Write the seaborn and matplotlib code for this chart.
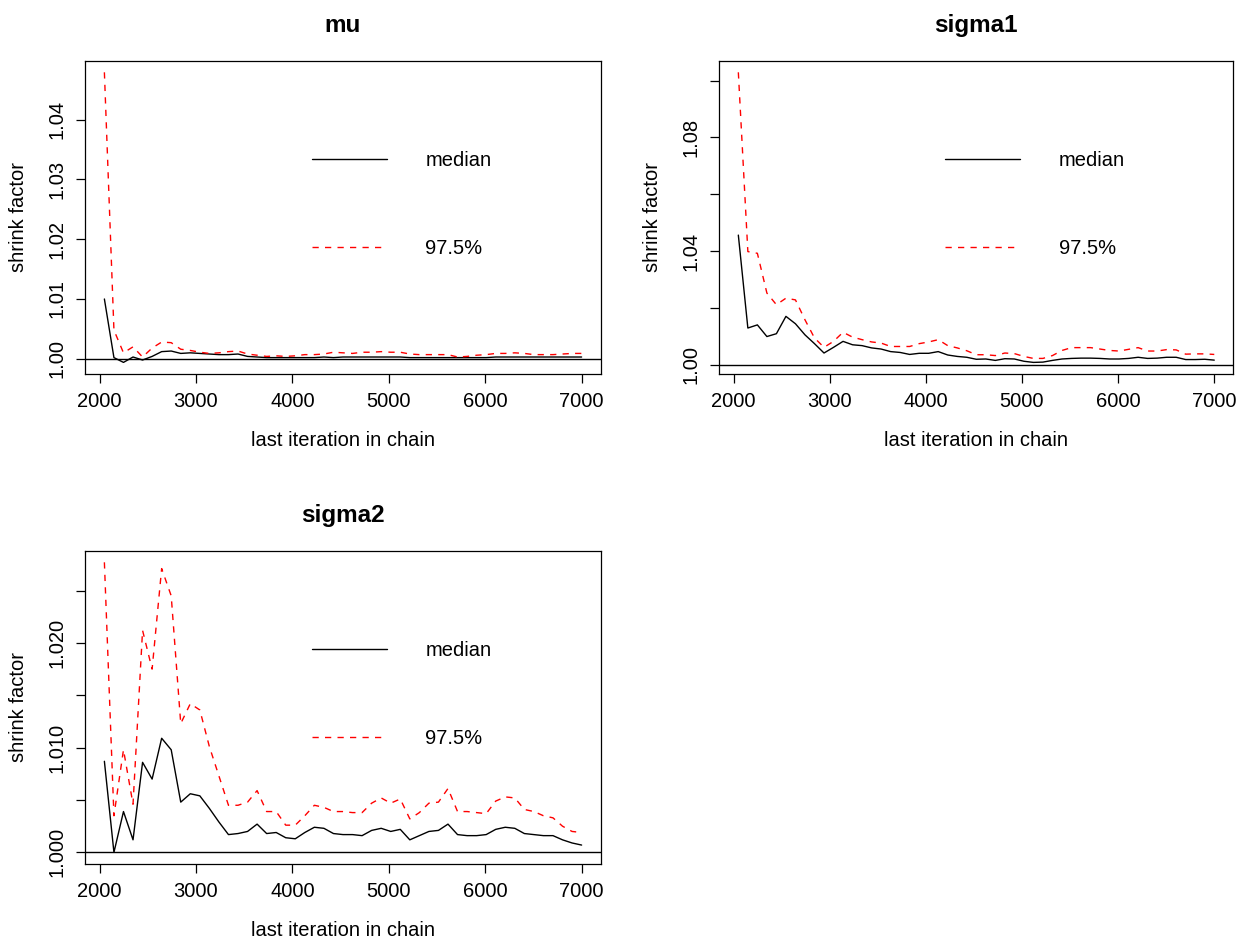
import numpy as np
import pandas as pd
import matplotlib
matplotlib.use("Agg")
import matplotlib.pyplot as plt
import seaborn as sns

# ---------------- data ----------------
last_iter = [2050, 2149, 2248, 2347, 2446, 2545, 2644, 2743, 2842, 2941,
             3040, 3139, 3238, 3337, 3436, 3535, 3634, 3733, 3832, 3931,
             4030, 4129, 4228, 4327, 4426, 4525, 4624, 4723, 4822, 4921,
             5020, 5119, 5218, 5317, 5416, 5515, 5614, 5713, 5812, 5911,
             6010, 6109, 6208, 6307, 6406, 6505, 6604, 6703, 6802, 6901,
             7000]

mu_median = [1.0100, 1.0002, 0.9994, 1.0003, 0.9998, 1.0004, 1.0012, 1.0013, 1.0009, 1.0010,
             1.0009, 1.0008, 1.0007, 1.0007, 1.0008, 1.0004, 1.0003, 1.0002, 1.0002, 1.0002,
             1.0002, 1.0002, 1.0002, 1.0003, 1.0002, 1.0003, 1.0003, 1.0003, 1.0003, 1.0003,
             1.0003, 1.0003, 1.0002, 1.0002, 1.0002, 1.0002, 1.0002, 1.0002, 1.0002, 1.0002,
             1.0002, 1.0003, 1.0003, 1.0003, 1.0003, 1.0003, 1.0003, 1.0003, 1.0003, 1.0003,
             1.0003]
mu_975 = [1.0479, 1.0048, 1.0010, 1.0020, 1.0003, 1.0018, 1.0028, 1.0027, 1.0016, 1.0014,
          1.0011, 1.0009, 1.0010, 1.0012, 1.0013, 1.0008, 1.0006, 1.0004, 1.0005, 1.0004,
          1.0005, 1.0007, 1.0007, 1.0008, 1.0011, 1.0010, 1.0009, 1.0011, 1.0011, 1.0012,
          1.0011, 1.0011, 1.0008, 1.0007, 1.0007, 1.0007, 1.0007, 1.0003, 1.0004, 1.0006,
          1.0007, 1.0009, 1.0009, 1.0010, 1.0009, 1.0007, 1.0007, 1.0007, 1.0008, 1.0009,
          1.0009]

sigma1_median = [1.0456, 1.0129, 1.0140, 1.0099, 1.0109, 1.0170, 1.0144, 1.0105, 1.0074, 1.0041,
                 1.0061, 1.0082, 1.0070, 1.0067, 1.0059, 1.0055, 1.0046, 1.0043, 1.0036, 1.0040,
                 1.0040, 1.0046, 1.0034, 1.0029, 1.0026, 1.0019, 1.0020, 1.0015, 1.0021, 1.0020,
                 1.0012, 1.0008, 1.0009, 1.0015, 1.0020, 1.0022, 1.0023, 1.0023, 1.0022, 1.0020,
                 1.0020, 1.0022, 1.0026, 1.0022, 1.0023, 1.0026, 1.0026, 1.0018, 1.0018, 1.0019,
                 1.0016]
sigma1_975 = [1.1029, 1.0398, 1.0392, 1.0252, 1.0211, 1.0234, 1.0228, 1.0158, 1.0094, 1.0061,
              1.0082, 1.0114, 1.0097, 1.0088, 1.0080, 1.0076, 1.0064, 1.0064, 1.0064, 1.0074,
              1.0080, 1.0088, 1.0067, 1.0059, 1.0049, 1.0035, 1.0035, 1.0032, 1.0041, 1.0039,
              1.0029, 1.0022, 1.0022, 1.0032, 1.0050, 1.0060, 1.0060, 1.0060, 1.0055, 1.0050,
              1.0048, 1.0054, 1.0060, 1.0048, 1.0048, 1.0053, 1.0052, 1.0037, 1.0038, 1.0038,
              1.0036]

sigma2_median = [1.0087, 1.0000, 1.0039, 1.0012, 1.0086, 1.0070, 1.0109, 1.0098, 1.0048, 1.0056,
                 1.0054, 1.0042, 1.0029, 1.0017, 1.0018, 1.0020, 1.0027, 1.0018, 1.0019, 1.0014,
                 1.0013, 1.0019, 1.0024, 1.0023, 1.0018, 1.0017, 1.0017, 1.0016, 1.0021, 1.0023,
                 1.0020, 1.0022, 1.0012, 1.0016, 1.0020, 1.0021, 1.0027, 1.0017, 1.0016, 1.0016,
                 1.0017, 1.0022, 1.0024, 1.0023, 1.0018, 1.0017, 1.0016, 1.0016, 1.0012, 1.0009,
                 1.0007]
sigma2_975 = [1.0277, 1.0035, 1.0098, 1.0046, 1.0212, 1.0175, 1.0271, 1.0245, 1.0123, 1.0142,
              1.0136, 1.0101, 1.0073, 1.0045, 1.0045, 1.0048, 1.0059, 1.0039, 1.0039, 1.0026,
              1.0026, 1.0035, 1.0045, 1.0043, 1.0039, 1.0039, 1.0038, 1.0038, 1.0047, 1.0052,
              1.0047, 1.0051, 1.0032, 1.0038, 1.0047, 1.0048, 1.0061, 1.0039, 1.0039, 1.0038,
              1.0037, 1.0049, 1.0053, 1.0052, 1.0041, 1.0039, 1.0035, 1.0033, 1.0025, 1.0020,
              1.0019]

panel_titles = ["mu", "sigma1", "sigma2"]
legend_labels = ["median", "97.5%"]
x_ticks = [2000, 3000, 4000, 5000, 6000, 7000]
y_ticks = {
    "mu": ([1.00, 1.01, 1.02, 1.03, 1.04], ["1.00", "1.01", "1.02", "1.03", "1.04"]),
    "sigma1": ([1.00, 1.02, 1.04, 1.06, 1.08, 1.10], ["1.00", "", "1.04", "", "1.08", ""]),
    "sigma2": ([1.000, 1.005, 1.010, 1.015, 1.020, 1.025], ["1.000", "", "1.010", "", "1.020", ""]),
}
series = {
    "mu": (mu_median, mu_975),
    "sigma1": (sigma1_median, sigma1_975),
    "sigma2": (sigma2_median, sigma2_975),
}

# ---------------- style ----------------
sns.set_theme(style="white")
plt.rcParams["font.family"] = ["Liberation Sans", "DejaVu Sans"]
plt.rcParams["axes.edgecolor"] = "black"
plt.rcParams["axes.linewidth"] = 0.9
plt.rcParams["text.color"] = "black"
plt.rcParams["axes.labelcolor"] = "black"

FS = 14.5
fig = plt.figure(figsize=(12.46, 9.43), dpi=100)
fig.patch.set_facecolor("white")

W, H = 1246.0, 943.0
boxes = {
    "mu": (85.3, 60.7, 600.7, 374.0),
    "sigma1": (719.3, 60.7, 1233.3, 374.0),
    "sigma2": (85.3, 550.7, 600.7, 864.0),
}

for name in panel_titles:
    l, t, r, b = boxes[name]
    ax = fig.add_axes([l / W, 1 - b / H, (r - l) / W, (b - t) / H])
    med, q975 = series[name]
    df = pd.DataFrame({"last": last_iter, "median": med, "q975": q975})

    sns.lineplot(data=df, x="last", y="median", ax=ax, color="black",
                 lw=1.0, label=legend_labels[0])
    sns.lineplot(data=df, x="last", y="q975", ax=ax, color="red",
                 lw=1.0, linestyle=(0, (4.5, 4.5)), label=legend_labels[1])
    ax.axhline(1.0, color="black", lw=1.0)

    # R-style 4% axis expansion
    xmin, xmax = min(last_iter), max(last_iter)
    xr = xmax - xmin
    ax.set_xlim(xmin - 0.04 * xr, xmax + 0.04 * xr)
    ymin = min(min(med), min(q975))
    ymax = max(max(med), max(q975))
    yr = ymax - ymin
    ax.set_ylim(ymin - 0.04 * yr, ymax + 0.04 * yr)

    ax.set_xticks(x_ticks)
    ax.set_xticklabels([str(v) for v in x_ticks], fontsize=FS)
    yt, yl = y_ticks[name]
    ax.set_yticks(yt)
    ax.set_yticklabels(yl, fontsize=FS, rotation=90, va="center")
    ax.tick_params(axis="both", direction="out", length=6.7, width=0.9,
                   color="black", pad=6.5, labelcolor="black",
                   bottom=True, left=True)

    for sp in ax.spines.values():
        sp.set_visible(True)
        sp.set_color("black")
        sp.set_linewidth(0.9)

    ax.set_xlabel("last iteration in chain", fontsize=FS, color="black")
    ax.set_ylabel("shrink factor", fontsize=FS, color="black")
    ax.xaxis.set_label_coords(0.5, -0.183)
    ax.yaxis.set_label_coords(-0.112, 0.5)
    ax.set_title(name, fontsize=17.5, fontweight="bold", pad=21, color="black")

    leg = ax.legend(loc="upper left", bbox_to_anchor=(0.439, 0.712),
                    frameon=False, fontsize=FS, handlelength=3.75,
                    handletextpad=1.9, labelspacing=3.45, borderpad=0,
                    borderaxespad=0)
    for txt in leg.get_texts():
        txt.set_color("black")
    ax.grid(False)

fig.savefig("out.png", dpi=100, facecolor="white")
